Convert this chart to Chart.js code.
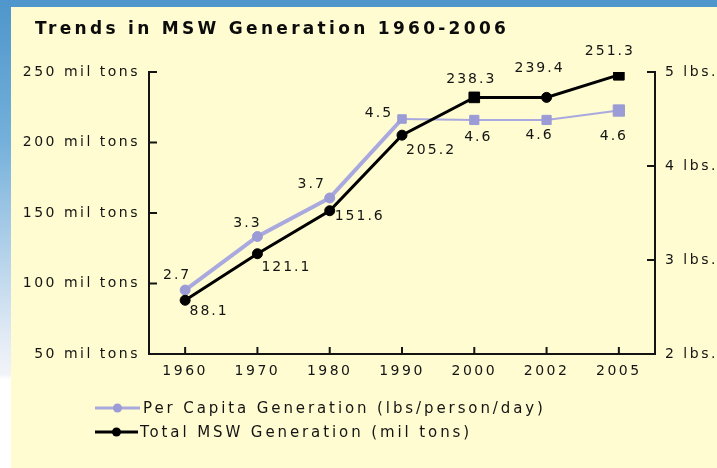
<!DOCTYPE html>
<html>
<head>
<meta charset="utf-8">
<script src="https://cdn.jsdelivr.net/npm/chart.js@4.4.1/dist/chart.umd.min.js"></script>
<style>
    body {
        margin: 0;
        width: 717px;
        height: 468px;
        overflow: hidden;
        background: linear-gradient(180deg, #4e96cb 0%, #74b0db 30%, #b6d3eb 55%, #e9eef6 75%, #f1f3f8 80%, #ffffff 81%, #ffffff 100%);
    }
    #panel {
        position: absolute;
        left: 11px;
        top: 7px;
        width: 706px;
        height: 461px;
        background: #fefcd0;
    }
</style>
</head>
<body>
<div id="panel"><canvas id="mswChart" width="706" height="461"></canvas></div>
<script>
// Kategorier och serier
const years = ["1960", "1970", "1980", "1990", "2000", "2002", "2005"];

const totalMsw = [88.1, 121.1, 151.6, 205.2, 232, 232, 248];
const totalLabels = ["88.1", "121.1", "151.6", "205.2", "238.3", "239.4", "251.3"];

const perCapita = [2.68, 3.25, 3.66, 4.5, 4.49, 4.49, 4.59];
const perCapitaLabels = ["2.7", "3.3", "3.7", "4.5", "4.6", "4.6", "4.6"];

// Axeltexter
const tonTicks = ["50 mil tons", "100 mil tons", "150 mil tons", "200 mil tons", "250 mil tons"];
const lbsTicks = ["2 lbs.", "3 lbs.", "4 lbs.", "5 lbs."];

const titleText = "Trends in MSW Generation 1960-2006";
const legendTexts = ["Per Capita Generation (lbs/person/day)", "Total MSW Generation (mil tons)"];

const ink = "#141414";
const lavender = "#a9a9df";
const lavenderDot = "#9b9bd6";
const font = "DejaVu Sans";

// Etikettplacering relativt punkten
const totalOffsets = [[24, 11], [29, 14], [30, 6], [29, 15], [-3, -18], [-7, -29], [-9, -23]];
const perCapitaOffsets = [[-8, -15], [-10, -13], [-18, -14], [-23, -6], [4, 17], [-7, 15], [-5, 26]];

const spacing = {
    id: "spacing",
    beforeDraw(chart) {
        chart.ctx.letterSpacing = "2.5px";
    }
};

const inwardTicks = {
    id: "inwardTicks",
    beforeDatasetsDraw(chart) {
        const ctx = chart.ctx;
        const area = chart.chartArea;
        const sy = chart.scales.y;
        const sy1 = chart.scales.y1;
        const sx = chart.scales.x;

        ctx.save();
        ctx.strokeStyle = ink;
        ctx.lineWidth = 2;
        ctx.beginPath();
        sy.ticks.forEach(t => {
            const y = sy.getPixelForValue(t.value);
            ctx.moveTo(area.left, y);
            ctx.lineTo(area.left + 8, y);
        });
        sy1.ticks.forEach(t => {
            const y = sy1.getPixelForValue(t.value);
            ctx.moveTo(area.right, y);
            ctx.lineTo(area.right - 8, y);
        });
        years.forEach((yr, i) => {
            const x = sx.getPixelForValue(i);
            ctx.moveTo(x, area.bottom);
            ctx.lineTo(x, area.bottom - 7);
        });
        ctx.stroke();
        ctx.restore();
    }
};

const extras = {
    id: "extras",
    afterDraw(chart) {
        const ctx = chart.ctx;
        ctx.save();

        // Titel
        ctx.fillStyle = "#0c0c0c";
        ctx.textBaseline = "middle";
        ctx.textAlign = "left";
        ctx.letterSpacing = "3.3px";
        ctx.font = "bold 17px '" + font + "'";
        ctx.fillText(titleText, 24, 23);

        // Värdeetiketter
        ctx.letterSpacing = "2px";
        ctx.font = "14px '" + font + "'";
        ctx.textAlign = "center";
        ctx.fillStyle = ink;

        const drawLabels = (dsIndex, labels, offsets) => {
            chart.getDatasetMeta(dsIndex).data.forEach((pt, i) => {
                ctx.fillText(labels[i], pt.x + offsets[i][0], pt.y + offsets[i][1]);
            });
        };
        drawLabels(0, totalLabels, totalOffsets);
        drawLabels(1, perCapitaLabels, perCapitaOffsets);

        // Legend
        const rows = [
            { ds: chart.data.datasets[1], y: 401, x0: 84, x1: 129, tx: 132 },
            { ds: chart.data.datasets[0], y: 425, x0: 84, x1: 127, tx: 129 }
        ];
        ctx.textAlign = "left";
        ctx.letterSpacing = "2.9px";
        ctx.font = "15px '" + font + "'";
        rows.forEach((r, i) => {
            ctx.strokeStyle = r.ds.borderColor;
            ctx.lineWidth = 3;
            ctx.beginPath();
            ctx.moveTo(r.x0, r.y);
            ctx.lineTo(r.x1, r.y);
            ctx.stroke();
            ctx.fillStyle = r.ds.pointBackgroundColor;
            ctx.beginPath();
            ctx.arc((r.x0 + r.x1) / 2, r.y, 4.5, 0, Math.PI * 2);
            ctx.fill();
            ctx.fillStyle = ink;
            ctx.fillText(legendTexts[i], r.tx, r.y + 1);
        });

        ctx.restore();
    }
};

new Chart(document.getElementById("mswChart"), {
    type: "line",
    data: {
        labels: years,
        datasets: [
            {
                label: legendTexts[1],
                data: totalMsw,
                yAxisID: "y",
                borderColor: "#000",
                borderWidth: 3,
                pointBackgroundColor: "#000",
                pointBorderColor: "#000",
                pointBorderWidth: 1,
                pointStyle: ["circle", "circle", "circle", "circle", "rect", "circle", "rect"],
                pointRadius: [5, 5, 5, 5, 7.5, 5, 7.5],
                tension: 0
            },
            {
                label: legendTexts[0],
                data: perCapita,
                yAxisID: "y1",
                borderColor: lavender,
                borderWidth: 4,
                segment: {
                    borderWidth: c => c.p0DataIndex < 3 ? 4 : 2
                },
                pointBackgroundColor: lavenderDot,
                pointBorderColor: lavenderDot,
                pointBorderWidth: 1,
                pointStyle: ["circle", "circle", "circle", "rect", "rect", "rect", "rect"],
                pointRadius: [5, 5, 5, 6, 6.5, 6.5, 8],
                tension: 0
            }
        ]
    },
    options: {
        responsive: false,
        animation: false,
        devicePixelRatio: 1,
        layout: {
            padding: { top: 65, left: 0, right: 0, bottom: 0 }
        },
        plugins: {
            legend: { display: false },
            title: { display: false },
            tooltip: { enabled: false }
        },
        scales: {
            x: {
                type: "category",
                offset: true,
                grid: { display: false, drawTicks: false },
                border: { display: true, color: ink, width: 2 },
                ticks: {
                    color: ink,
                    padding: 9,
                    maxRotation: 0,
                    font: { family: font, size: 14 }
                },
                afterFit: s => { s.height = 114; }
            },
            y: {
                position: "left",
                min: 50,
                max: 250,
                grid: { display: false, drawTicks: false },
                border: { display: true, color: ink, width: 2 },
                ticks: {
                    stepSize: 50,
                    color: ink,
                    padding: 9,
                    font: { family: font, size: 14 },
                    callback: (v, i) => tonTicks[i]
                },
                afterFit: s => { s.width = 138; }
            },
            y1: {
                position: "right",
                min: 2,
                max: 5,
                grid: { display: false, drawTicks: false },
                border: { display: true, color: ink, width: 2 },
                ticks: {
                    stepSize: 1,
                    color: ink,
                    padding: 10,
                    font: { family: font, size: 14 },
                    callback: (v, i) => lbsTicks[i]
                },
                afterFit: s => { s.width = 62; }
            }
        }
    },
    plugins: [spacing, inwardTicks, extras]
});
</script>
</body>
</html>
